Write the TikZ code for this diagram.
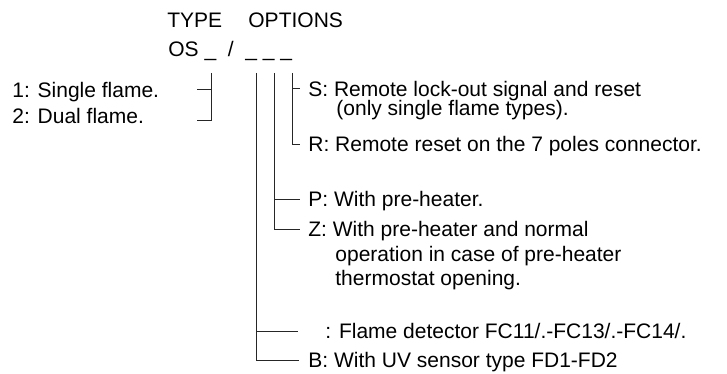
\documentclass[tikz,border=0pt]{standalone}
\usepackage{fontspec}
\setmainfont{Liberation Sans}

\begin{document}
\begin{tikzpicture}[
  x=0.5pt, y=-0.5pt,
  font=\fontsize{10.5}{12}\selectfont,
  head/.style={anchor=base west, inner sep=0pt},
  item/.style={anchor=west, inner sep=0pt, text height=7.5pt, text depth=0pt},
  lead/.style={black!85, line width=0.5pt}
]
\useasboundingbox (0,0) rectangle (727,374);

% =====================================================================
% Code header
% =====================================================================
\node[head] (type) at (167,27.5) {TYPE};
\node[head] (options) at (248,27.5) {OPTIONS};
\node[head] (code) at (168,56.5) {OS \_\ \ /\ \ \_\ \_\ \_};

% =====================================================================
% Type (left side)
% =====================================================================
\node[item] (single) at (12,90) {1: Single flame.};
\node[item] (dual) at (12,116) {2: Dual flame.};

\coordinate (typetop) at (211,73);
\coordinate (singleend) at (197,90);
\coordinate (dualend) at (197,120);
\draw[lead] (singleend) -- (singleend -| typetop);
\draw[lead] (typetop) |- (dualend);

% =====================================================================
% Options (right side)
% =====================================================================
\coordinate (opta) at (256,73);
\coordinate (optb) at (274,73);
\coordinate (optc) at (292,73);

% -- third position --
\node[item] (optS) at (308,89) {S: Remote lock-out signal and reset};
\node[item] (optSb) at (336,108) {(only single flame types).};
\node[item] (optR) at (308,144) {R: Remote reset on the 7 poles connector.};
\draw[lead] (optc |- optS.west) -- ([xshift=-4pt]optS.west);
\draw[lead] (optc) |- ([xshift=-4pt]optR.west);

% -- second position --
\node[item] (optP) at (308,199) {P: With pre-heater.};
\node[item] (optZ) at (308,229) {Z: With pre-heater and normal};
\node[item] (optZb) at (335,254) {operation in case of pre-heater};
\node[item] (optZc) at (335,278) {thermostat opening.};
\draw[lead] (optb |- optP.west) -- ([xshift=-4pt]optP.west);
\draw[lead] (optb) |- ([xshift=-4pt]optZ.west);

% -- first position --
\node[item] (optF) at (325,331) {: Flame detector FC11/.-FC13/.-FC14/.};
\node[item] (optB) at (308,360) {B: With UV sensor type FD1-FD2};
\draw[lead] (opta |- optF.west) -- ([xshift=-13.5pt]optF.west);
\draw[lead] (opta) |- ([xshift=-4.5pt]optB.west);

\end{tikzpicture}
\end{document}
